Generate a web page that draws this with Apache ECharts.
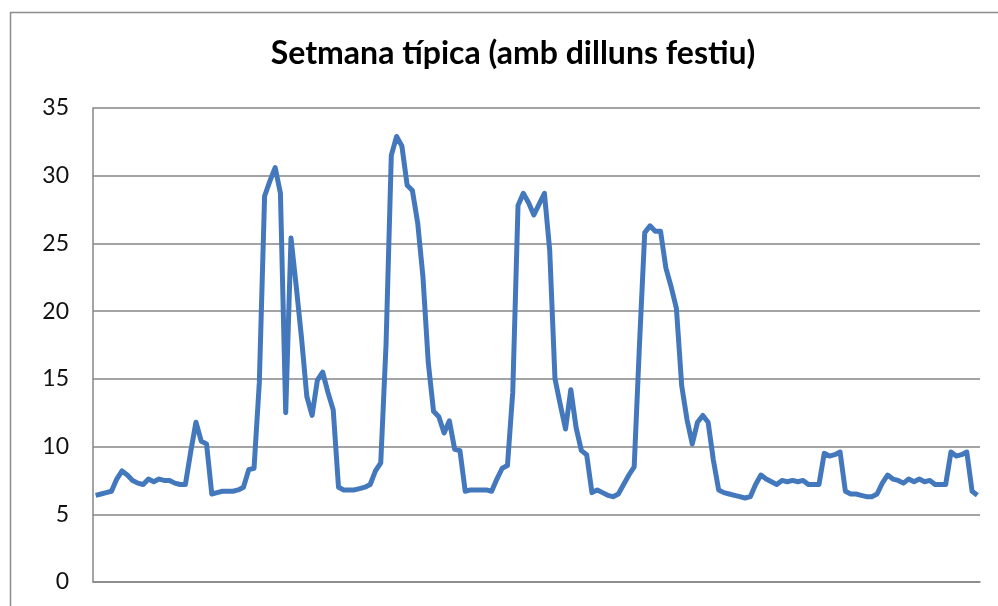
<!DOCTYPE html>
<html>
<head>
<meta charset="utf-8">
<title>Setmana típica</title>
<script src="https://cdn.jsdelivr.net/npm/echarts@6/dist/echarts.min.js"></script>
<style>
  html, body { margin: 0; padding: 0; background: #fff; }
  #chart { width: 998px; height: 606px; }
</style>
</head>
<body>
<div id="chart"></div>
<script>
// hourly values, one array per day (Monday is a holiday)
const dilluns = [6.4, 6.5, 6.6, 6.7, 7.6, 8.2, 7.9, 7.5, 7.3, 7.2, 7.6, 7.4, 7.6, 7.5, 7.5, 7.3, 7.2, 7.2, 9.6, 11.8, 10.4, 10.2, 6.5, 6.6];
const dimarts = [6.7, 6.7, 6.7, 6.8, 7.0, 8.3, 8.4, 14.7, 28.5, 29.6, 30.6, 28.7, 12.5, 25.4, 21.8, 18.0, 13.7, 12.3, 14.9, 15.5, 14.0, 12.7, 7.0, 6.8];
const dimecres = [6.8, 6.8, 6.9, 7.0, 7.2, 8.2, 8.8, 17.5, 31.5, 32.9, 32.2, 29.3, 28.9, 26.5, 22.5, 16.2, 12.6, 12.2, 11.0, 11.9, 9.8, 9.7, 6.7, 6.8];
const dijous = [6.8, 6.8, 6.8, 6.7, 7.6, 8.4, 8.6, 14.0, 27.8, 28.7, 28.0, 27.1, 27.9, 28.7, 24.5, 15.0, 13.1, 11.3, 14.2, 11.4, 9.7, 9.4, 6.6, 6.8];
const divendres = [6.6, 6.4, 6.3, 6.5, 7.2, 7.9, 8.5, 17.5, 25.8, 26.3, 25.9, 25.9, 23.2, 21.8, 20.2, 14.5, 12.0, 10.2, 11.8, 12.3, 11.8, 9.0, 6.8, 6.6];
const dissabte = [6.5, 6.4, 6.3, 6.2, 6.3, 7.2, 7.9, 7.6, 7.4, 7.2, 7.5, 7.4, 7.5, 7.4, 7.5, 7.2, 7.2, 7.2, 9.5, 9.3, 9.4, 9.6, 6.7, 6.5];
const diumenge = [6.5, 6.4, 6.3, 6.3, 6.5, 7.3, 7.9, 7.6, 7.5, 7.3, 7.6, 7.4, 7.6, 7.4, 7.5, 7.2, 7.2, 7.2, 9.6, 9.3, 9.4, 9.6, 6.7, 6.4];

const yTicks = [0, 5, 10, 15, 20, 25, 30, 35];

const values = [].concat(dilluns, dimarts, dimecres, dijous, divendres, dissabte, diumenge);
const hours = values.map((v, i) => String(i + 1));

const chart = echarts.init(document.getElementById("chart"));

chart.setOption({
  backgroundColor: "#ffffff",
  animation: false,
  title: {
    text: "Setmana típica (amb dilluns festiu)",
    left: 508,
    top: 33,
    textAlign: "center",
    textStyle: { fontFamily: "Lato", fontWeight: "bold", fontSize: 32, color: "#000" },
  },
  graphic: [{
    type: "rect",
    shape: { x: 10.5, y: 12.5, width: 1000, height: 700 },
    style: { fill: "none", stroke: "#8c8c8c", lineWidth: 1.5 },
    silent: true,
  }],
  grid: { left: 93, right: 18, top: 108, bottom: 24 },
  xAxis: {
    type: "category",
    data: hours,
    boundaryGap: true,
    axisLine: { show: true, lineStyle: { color: "#868686", width: 1.5 } },
    axisTick: { show: false },
    axisLabel: { show: false },
    splitLine: { show: false },
  },
  yAxis: {
    type: "value",
    min: yTicks[0],
    max: yTicks[yTicks.length - 1],
    interval: 5,
    axisLine: { show: true, lineStyle: { color: "#868686", width: 1.5 } },
    axisTick: { show: false },
    axisLabel: { color: "#111", fontFamily: "Lato", fontSize: 23, margin: 24 },
    splitLine: { lineStyle: { color: "#868686", width: 1.5 } },
  },
  series: [{
    type: "line",
    data: values,
    symbol: "none",
    lineStyle: { color: "#4478bd", width: 5, join: "round" },
  }],
});
</script>
</body>
</html>
